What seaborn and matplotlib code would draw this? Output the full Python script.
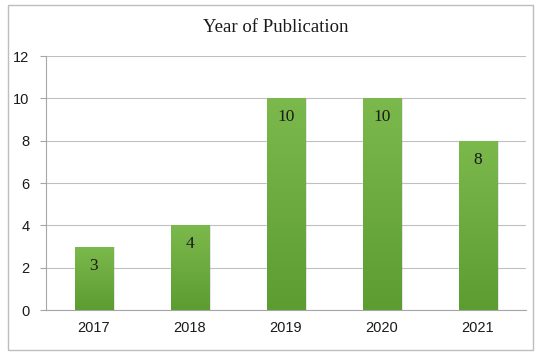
import numpy as np
import pandas as pd
import matplotlib
matplotlib.use("Agg")
import matplotlib.pyplot as plt
import seaborn as sns
from matplotlib.colors import LinearSegmentedColormap
from matplotlib.patches import Rectangle

years = ["2017", "2018", "2019", "2020", "2021"]
counts = [3, 4, 10, 10, 8]
title = "Year of Publication"
yticks = [0, 2, 4, 6, 8, 10, 12]

sns.set_style("white")
plt.rcParams['font.family'] = ['Liberation Sans', 'DejaVu Sans']

fig = plt.figure(figsize=(5.5, 3.58), dpi=100)
ax = fig.add_axes([46/550, 1-310/358, (526-46)/550, (310-56)/358])

df = pd.DataFrame({"year": years, "count": counts})
sns.barplot(data=df, x="year", y="count", color="#6aab3e", width=0.4, ax=ax, zorder=3)

ax.set_ylim(0, 12)
ax.set_xlim(-0.5, len(years)-0.5)
ax.set_yticks(yticks)
ax.yaxis.grid(True, color="#c0c0c0", linewidth=0.8, zorder=0)
ax.set_axisbelow(True)

# gradient fill on bars
cmap = LinearSegmentedColormap.from_list("g", ["#5c9c31", "#7cb94d"])
grad = np.linspace(0, 1, 256).reshape(-1, 1)
for p in list(ax.patches):
    x0, y0 = p.get_x(), p.get_y()
    w, h = p.get_width(), p.get_height()
    sh = Rectangle((x0 + 0.015, y0), w, h - 0.03, facecolor="#000000", alpha=0.12,
                   edgecolor="none", zorder=2)
    ax.add_patch(sh)
    im = ax.imshow(grad, extent=[x0, x0 + w, y0, y0 + h], origin="lower",
                   cmap=cmap, aspect="auto", zorder=3.5)
    im.set_clip_path(p)
ax.set_xlim(-0.5, len(years)-0.5)
ax.set_ylim(0, 12)

for i, v in enumerate(counts):
    ax.annotate(str(v), (i, v), xytext=(0, -8), textcoords="offset points",
                ha="center", va="top", fontsize=12.5, family="Liberation Serif",
                color="#1a1a1a", zorder=5)

ax.set_xlabel("")
ax.set_ylabel("")
for s in ["top", "right"]:
    ax.spines[s].set_visible(False)
for s in ["left", "bottom"]:
    ax.spines[s].set_color("#a6a6a6")
    ax.spines[s].set_linewidth(0.8)

ax.set_xticks(np.arange(-0.5, len(years), 1.0), minor=True)
ax.tick_params(axis="x", which="minor", length=5, color="#a6a6a6", width=0.8, direction="out")
ax.tick_params(axis="x", which="major", length=0, labelsize=10.5, colors="#1a1a1a", pad=8)
ax.tick_params(axis="y", which="major", length=4, color="#a6a6a6", width=0.8,
               direction="out", labelsize=10.5, colors="#1a1a1a", pad=8)
ax.tick_params(axis="y", left=True)

fig.text(276/550, 1-28/358, title, ha="center", va="center", fontsize=13.5,
         family="Liberation Serif", color="#1a1a1a")

fig.patches.append(Rectangle((8/550, 1-350/358), (533-8)/550, (350-5)/358,
                             transform=fig.transFigure, facecolor="none",
                             edgecolor="#bdbdbd", linewidth=1.0, zorder=0))

fig.savefig("out.png", dpi=100)
